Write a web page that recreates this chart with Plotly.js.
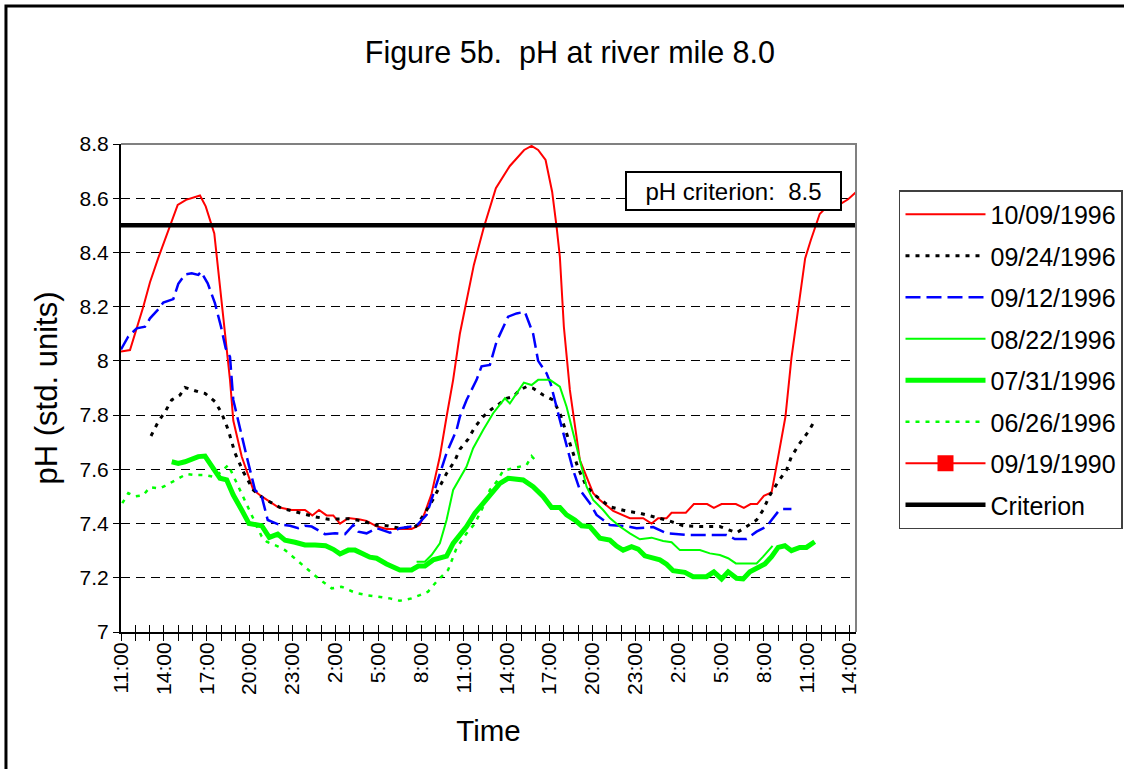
<!DOCTYPE html>
<html>
<head>
<meta charset="utf-8">
<script src="https://cdn.plot.ly/plotly-3.0.1.min.js"></script>
<style>
  html, body { margin:0; padding:0; background:#fff; }
  #chart { width:1124px; height:769px; }
</style>
</head>
<body>
<div id="chart"></div>
<script>
// Time axis: hours elapsed since 11:00 on day 1
const tickHours = [0, 3, 6, 9, 12, 15, 18, 21, 24, 27, 30, 33, 36, 39, 42, 45, 48, 51];
const tickLabels = ['11:00','14:00','17:00','20:00','23:00','2:00','5:00','8:00',
                    '11:00','14:00','17:00','20:00','23:00','2:00','5:00','8:00','11:00','14:00'];
const yTickVals = [7, 7.2, 7.4, 7.6, 7.8, 8, 8.2, 8.4, 8.6, 8.8];
const yTickLabels = ['7','7.2','7.4','7.6','7.8','8','8.2','8.4','8.6','8.8'];

const seriesNames = ['10/09/1996','09/24/1996','09/12/1996','08/22/1996','07/31/1996','06/26/1996','09/19/1990','Criterion'];

// 10/09/1996
const oct09Hours = [0,0.63,1.56,2.03,2.61,3.31,3.97,4.55,5.53,5.93,6.53,7.63,7.86,8.45,9.26,9.85,11.01,11.95,12.88,13.39,13.86,14.39,14.86,15.33,15.91,16.73,17.19,17.89,18.59,19.52,20.34,20.92,21.27,21.74,22.32,22.79,23.25,23.72,24.70,25.40,25.82,26.24,27.22,27.69,28.22,28.74,29.20,29.72,30.18,30.49,30.72,31.00,31.42,31.65,32.12,33.05,33.52,34.45,35.62,36.55,37.14,37.60,38.19,38.54,39.54,40.10,41.03,41.50,42.04,43.04,43.60,44.07,44.53,45.00,45.54,45.96,46.51,46.93,47.47,47.89,48.29,48.91,49.20,50.43,50.90,51.48];
const oct09PH = [8.035,8.04,8.20,8.29,8.38,8.48,8.575,8.594,8.61,8.57,8.47,7.93,7.78,7.647,7.524,7.50,7.46,7.45,7.45,7.43,7.45,7.43,7.43,7.40,7.42,7.415,7.41,7.39,7.38,7.38,7.38,7.395,7.44,7.51,7.647,7.794,7.93,8.10,8.354,8.493,8.569,8.637,8.719,8.747,8.778,8.793,8.778,8.741,8.624,8.495,8.384,8.126,7.893,7.807,7.634,7.512,7.487,7.447,7.42,7.42,7.40,7.42,7.42,7.44,7.44,7.472,7.472,7.458,7.472,7.472,7.458,7.472,7.472,7.502,7.515,7.634,7.794,8.01,8.212,8.378,8.446,8.542,8.557,8.581,8.596,8.624];

// 09/24/1996
const sep24Hours = [2.10,2.61,3.13,3.55,4.13,4.48,5.41,5.88,6.58,7.05,7.51,7.98,8.56,9.26,9.96,11.25,12.18,13.58,14.51,15.91,17.07,17.66,18.59,19.52,20.64,21.27,21.85,22.79,23.37,23.72,24.30,24.77,25.35,25.94,26.52,26.99,27.45,27.92,28.39,28.85,29.55,30.25,30.72,31.07,31.54,32.00,32.59,33.29,34.22,35.39,36.32,37.37,38.19,39.35,40.52,41.92,42.62,43.09,43.79,44.49,44.95,45.42,46.00,46.58,46.93,47.51,48.11,48.45];
const sep24PH = [7.723,7.776,7.816,7.856,7.874,7.902,7.886,7.88,7.85,7.807,7.745,7.66,7.591,7.524,7.493,7.456,7.444,7.425,7.416,7.418,7.408,7.395,7.392,7.383,7.39,7.438,7.49,7.585,7.632,7.674,7.711,7.756,7.794,7.822,7.843,7.862,7.868,7.893,7.905,7.899,7.874,7.856,7.807,7.751,7.684,7.604,7.536,7.50,7.462,7.446,7.438,7.425,7.413,7.392,7.389,7.389,7.376,7.366,7.389,7.413,7.45,7.505,7.554,7.597,7.647,7.696,7.739,7.77];

// 09/12/1996
const sep12Hours = [0,0.51,1.10,1.68,2.03,2.61,2.96,3.66,4.01,4.48,4.95,5.41,5.60,6.07,6.58,7.00,7.33,7.63,7.86,8.33,8.80,9.38,9.85,10.27,11.01,11.83,12.41,12.88,13.35,14.28,14.98,15.68,16.26,16.61,17.19,17.89,18.82,19.52,20.69,21.39,21.74,22.32,22.79,23.49,23.72,24.19,24.89,25.24,25.82,26.29,27.10,27.69,28.27,28.85,29.20,29.79,30.07,30.72,31.65,32.12,32.82,33.29,34.22,35.27,36.09,37.25,38.19,39.59,42.39,42.97,43.79,44.49,45.19,45.54,46.00,46.35,46.93];
const sep12PH = [8.042,8.09,8.12,8.126,8.157,8.19,8.215,8.228,8.284,8.319,8.323,8.317,8.329,8.286,8.212,8.126,8.046,8.015,7.856,7.757,7.647,7.524,7.50,7.413,7.397,7.392,7.383,7.392,7.389,7.361,7.364,7.361,7.395,7.37,7.364,7.383,7.366,7.383,7.392,7.432,7.487,7.585,7.66,7.745,7.794,7.856,7.93,7.98,7.985,8.071,8.163,8.175,8.181,8.10,8.0,7.954,7.917,7.782,7.597,7.524,7.475,7.432,7.395,7.391,7.383,7.387,7.364,7.358,7.358,7.343,7.343,7.37,7.389,7.413,7.444,7.454,7.454];

// 08/22/1996
const aug22Hours = [20.69,21.27,21.74,22.32,22.79,23.25,24.19,24.65,25.35,26.05,26.87,27.22,27.69,28.20,28.74,29.20,30.02,30.72,31.19,31.65,32.12,32.59,33.05,33.75,34.22,34.92,35.62,36.32,37.14,37.95,38.54,39.12,40.52,41.22,41.92,42.50,43.04,44.49,44.95,45.61];
const aug22PH = [7.259,7.259,7.284,7.327,7.413,7.524,7.61,7.678,7.745,7.807,7.862,7.843,7.88,7.92,7.911,7.93,7.93,7.905,7.831,7.733,7.628,7.536,7.487,7.45,7.42,7.389,7.364,7.342,7.348,7.336,7.331,7.302,7.302,7.29,7.284,7.272,7.253,7.253,7.278,7.318];

// 07/31/1996
const jul31Hours = [3.55,4.01,4.48,4.95,5.41,5.88,6.35,6.93,7.40,7.86,8.45,8.96,9.85,10.38,10.97,11.48,12.18,12.88,13.58,14.32,14.86,15.33,15.91,16.38,16.96,17.42,17.89,18.59,19.52,20.34,20.81,21.27,21.85,22.79,23.25,24.19,24.77,25.35,25.94,26.52,27.10,27.57,28.15,28.85,29.55,30.14,30.72,31.19,31.77,32.24,32.82,33.52,34.22,34.69,35.15,35.74,36.20,36.67,37.25,37.72,38.19,38.65,39.47,40.05,40.99,41.50,42.04,42.50,43.09,43.55,44.02,44.60,45.07,45.54,46.00,46.47,46.93,47.51,47.98,48.56];
const jul31PH = [7.628,7.622,7.628,7.64,7.647,7.649,7.61,7.567,7.561,7.505,7.45,7.40,7.392,7.349,7.361,7.339,7.331,7.321,7.321,7.318,7.305,7.288,7.302,7.302,7.288,7.276,7.272,7.251,7.229,7.229,7.243,7.243,7.266,7.28,7.327,7.389,7.438,7.475,7.512,7.548,7.567,7.564,7.561,7.536,7.50,7.459,7.459,7.432,7.413,7.392,7.389,7.346,7.339,7.317,7.302,7.315,7.306,7.281,7.272,7.266,7.25,7.226,7.22,7.204,7.204,7.222,7.196,7.222,7.198,7.196,7.222,7.241,7.251,7.278,7.312,7.318,7.30,7.312,7.312,7.333];

// 06/26/1996
const jun26Hours = [0.09,0.51,0.98,1.56,2.03,2.73,3.08,3.90,4.60,5.18,5.88,6.58,7.51,9.85,10.20,11.01,11.48,13.81,14.75,15.44,16.38,17.19,18.12,18.82,19.52,20.34,20.92,21.50,22.09,22.55,22.90,23.49,24.19,24.77,25.35,25.82,26.29,26.75,27.45,27.92,28.39,28.74,29.20];
const jun26PH = [7.475,7.512,7.50,7.505,7.534,7.53,7.539,7.563,7.583,7.579,7.579,7.571,7.616,7.352,7.333,7.315,7.302,7.198,7.161,7.167,7.145,7.136,7.128,7.124,7.115,7.124,7.136,7.149,7.186,7.21,7.229,7.31,7.364,7.40,7.462,7.524,7.554,7.595,7.604,7.61,7.616,7.649,7.622];

// 09/19/1990 (legend entry only, no visible data)
const sep1990Hours = [0];
const sep1990PH = [null];

// Criterion
const criterionPH = 8.5;
const xRange = [0, 51.45];
const criterionHours = [xRange[0], xRange[1]];
const criterionValues = [criterionPH, criterionPH];

const FONT = '"Liberation Sans", Arial, Helvetica, sans-serif';

// every hour gets a tick; labels every 3 hours
const allHourTicks = [];
const allHourLabels = [];
for (let h = 0; h <= 51; h++) {
  allHourTicks.push(h);
  const idx = tickHours.indexOf(h);
  allHourLabels.push(idx >= 0 ? tickLabels[idx] : '');
}

function line(name, x, y, color, width, dash, extra) {
  return Object.assign({
    type: 'scatter', mode: 'lines', name: name, x: x, y: y,
    line: { color: color, width: width, dash: dash || 'solid' },
    legendgroup: name, hoverinfo: 'skip'
  }, extra || {});
}

const traces = [
  line(seriesNames[0], oct09Hours, oct09PH, '#ff0000', 2, 'solid'),
  line(seriesNames[1], sep24Hours, sep24PH, '#000000', 3, '4px,6px'),
  line(seriesNames[2], sep12Hours, sep12PH, '#0000ff', 2.5, '15px,6px'),
  line(seriesNames[3], aug22Hours, aug22PH, '#00ff00', 2, 'solid'),
  line(seriesNames[4], jul31Hours, jul31PH, '#00ff00', 5, 'solid'),
  line(seriesNames[5], jun26Hours, jun26PH, '#00ff00', 2.5, '4px,6px'),
  line(seriesNames[6], sep1990Hours, sep1990PH, '#ff0000', 2, 'solid',
       { mode: 'lines+markers', marker: { symbol: 'square', size: 16, color: '#ff0000' } }),
  line(seriesNames[7], criterionHours, criterionValues, '#000000', 4.5, 'solid', { xaxis: 'x2' })
];

const layout = {
  width: 1124, height: 769,
  margin: { l: 121, r: 268, t: 144, b: 137, autoexpand: false },
  paper_bgcolor: '#ffffff', plot_bgcolor: '#ffffff',
  font: { family: FONT, color: '#000000' },
  showlegend: true,
  title: {
    text: 'Figure 5b.&nbsp; pH at river mile 8.0',
    font: { family: FONT, size: 30.5, color: '#000000' },
    xref: 'container', x: 0.507, xanchor: 'center',
    yref: 'container', y: 0.932, yanchor: 'middle'
  },
  xaxis: {
    range: xRange, tickmode: 'array', tickvals: allHourTicks, ticktext: allHourLabels,
    tickangle: -90, ticks: 'outside', ticklen: 7, tickwidth: 1, tickcolor: '#000000',
    ticklabelstandoff: -7,
    tickfont: { family: FONT, size: 21, color: '#000000' },
    showline: true, linecolor: '#000000', linewidth: 2,
    showgrid: false, zeroline: false, automargin: false,
    title: { text: 'Time', font: { family: FONT, size: 29.5, color: '#000000' }, standoff: 26 }
  },
  xaxis2: {
    overlaying: 'x', anchor: 'y', side: 'bottom', range: xRange,
    tickmode: 'array', tickvals: allHourTicks, ticks: 'inside', ticklen: 7, tickwidth: 1,
    tickcolor: '#000000', showticklabels: false, showgrid: false, zeroline: false, showline: false
  },
  yaxis: {
    range: [7, 8.8], tickmode: 'array', tickvals: yTickVals, ticktext: yTickLabels,
    ticks: 'outside', ticklen: 6, tickwidth: 1, tickcolor: '#000000',
    tickfont: { family: FONT, size: 21, color: '#000000' },
    showline: true, linecolor: '#000000', linewidth: 2,
    showgrid: true, gridcolor: '#000000', gridwidth: 1, griddash: '9px,6px',
    zeroline: false, automargin: false,
    title: { text: 'pH (std. units)', font: { family: FONT, size: 31, color: '#000000' }, standoff: 13 }
  },
  legend: {
    x: 1.0585, xref: 'paper', xanchor: 'left',
    y: 0.9057, yref: 'paper', yanchor: 'top',
    bgcolor: '#ffffff', bordercolor: '#404040', borderwidth: 1.5,
    font: { family: FONT, size: 25, color: '#000000' },
    itemwidth: 80, traceorder: 'grouped', tracegroupgap: 6
  },
  annotations: [{
    xref: 'x', yref: 'y', x: 42.87, y: 8.627, showarrow: false,
    text: 'pH criterion:&nbsp; ' + criterionPH,
    font: { family: FONT, size: 24, color: '#000000' },
    bgcolor: '#ffffff', bordercolor: '#000000', borderwidth: 2, borderpad: 1,
    width: 211, height: 34
  }],
  shapes: [
    // gray plot-area frame (top and right edges)
    { type: 'path', xref: 'paper', yref: 'paper', path: 'M0,1 L1,1 L1,0',
      line: { color: '#808080', width: 2 }, layer: 'above' },
    // outer chart frame (top and left visible)
    { type: 'rect', xref: 'paper', yref: 'paper', x0: -0.1565, x1: 2, y0: -2, y1: 1.2828,
      line: { color: '#000000', width: 3 }, fillcolor: 'rgba(0,0,0,0)', layer: 'below' }
  ]
};

Plotly.newPlot('chart', traces, layout, { staticPlot: true, displayModeBar: false });
</script>
</body>
</html>
